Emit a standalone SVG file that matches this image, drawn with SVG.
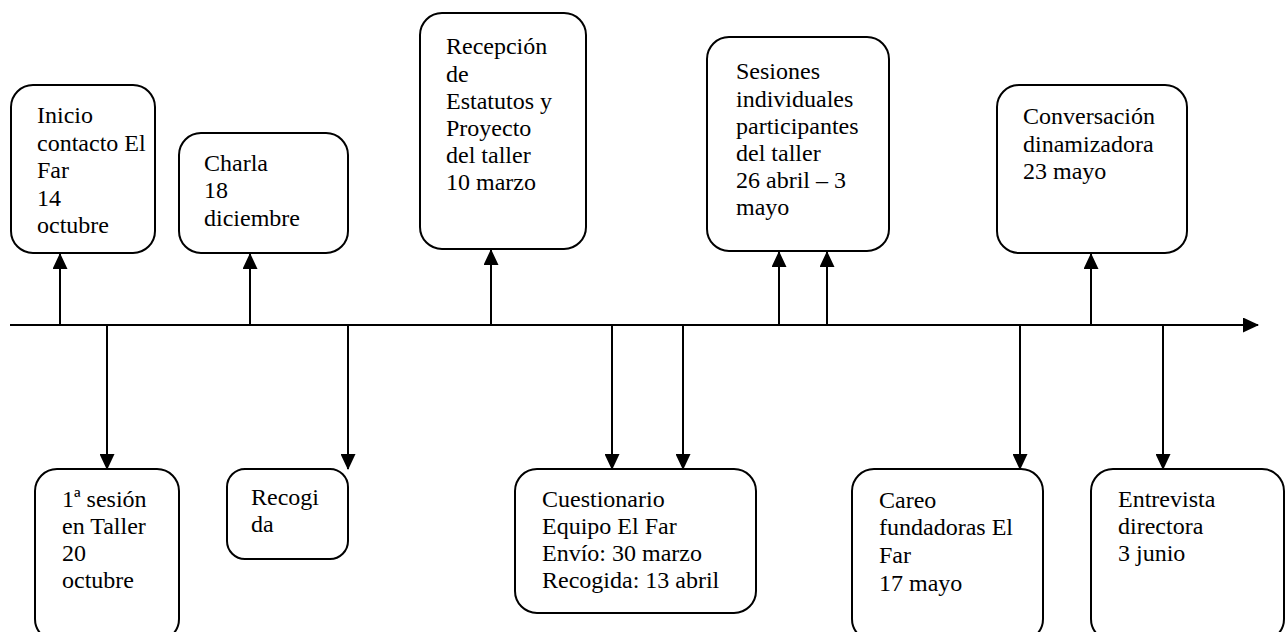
<svg xmlns="http://www.w3.org/2000/svg" width="1288" height="632" viewBox="0 0 1288 632">
<style>
.box{fill:#fff;stroke:#000;stroke-width:2}
.t{font-family:"Liberation Serif","Times New Roman",serif;font-size:24px;fill:#000}
.c{stroke:#000;stroke-width:2;fill:none}
</style>
<defs>
<marker id="ah" viewBox="0 0 16 15" refX="15" refY="7.5" markerWidth="16" markerHeight="15" markerUnits="userSpaceOnUse" orient="auto">
<path d="M0,0 L16,7.5 L0,15 Z" fill="#000"/>
</marker>
</defs>
<rect width="1288" height="632" fill="#fff"/>
<g id="connectors">
<line class="c" x1="10" y1="325" x2="1258" y2="325" marker-end="url(#ah)"/>
<line class="c" x1="60" y1="325" x2="60" y2="254" marker-end="url(#ah)"/>
<line class="c" x1="250" y1="325" x2="250" y2="254" marker-end="url(#ah)"/>
<line class="c" x1="491" y1="325" x2="491" y2="250" marker-end="url(#ah)"/>
<line class="c" x1="779" y1="325" x2="779" y2="252" marker-end="url(#ah)"/>
<line class="c" x1="827" y1="325" x2="827" y2="252" marker-end="url(#ah)"/>
<line class="c" x1="1091" y1="325" x2="1091" y2="254" marker-end="url(#ah)"/>
<line class="c" x1="107" y1="325" x2="107" y2="469" marker-end="url(#ah)"/>
<line class="c" x1="348" y1="325" x2="348" y2="469" marker-end="url(#ah)"/>
<line class="c" x1="612" y1="325" x2="612" y2="469" marker-end="url(#ah)"/>
<line class="c" x1="683" y1="325" x2="683" y2="469" marker-end="url(#ah)"/>
<line class="c" x1="1020" y1="325" x2="1020" y2="469" marker-end="url(#ah)"/>
<line class="c" x1="1163" y1="325" x2="1163" y2="469" marker-end="url(#ah)"/>
</g>
<g id="n1">
<rect class="box" x="11" y="85" width="144" height="168" rx="22"/>
<text class="t" x="37" y="123">Inicio</text>
<text class="t" x="37" y="151">contacto El</text>
<text class="t" x="37" y="178">Far</text>
<text class="t" x="37" y="206">14</text>
<text class="t" x="37" y="233">octubre</text>
</g>
<g id="n2">
<rect class="box" x="179" y="133" width="169" height="120" rx="22"/>
<text class="t" x="204" y="171">Charla</text>
<text class="t" x="204" y="198">18</text>
<text class="t" x="204" y="226">diciembre</text>
</g>
<g id="n3">
<rect class="box" x="420" y="13" width="166" height="236" rx="22"/>
<text class="t" x="446" y="54">Recepción</text>
<text class="t" x="446" y="82">de</text>
<text class="t" x="446" y="109">Estatutos y</text>
<text class="t" x="446" y="136">Proyecto</text>
<text class="t" x="446" y="163">del taller</text>
<text class="t" x="446" y="190">10 marzo</text>
</g>
<g id="n4">
<rect class="box" x="707" y="37" width="182" height="214" rx="22"/>
<text class="t" x="736" y="79">Sesiones</text>
<text class="t" x="736" y="107">individuales</text>
<text class="t" x="736" y="134">participantes</text>
<text class="t" x="736" y="161">del taller</text>
<text class="t" x="736" y="188">26 abril – 3</text>
<text class="t" x="736" y="215">mayo</text>
</g>
<g id="n5">
<rect class="box" x="997" y="85" width="190" height="168" rx="22"/>
<text class="t" x="1023" y="124">Conversación</text>
<text class="t" x="1023" y="152">dinamizadora</text>
<text class="t" x="1023" y="179">23 mayo</text>
</g>
<g id="n6">
<rect class="box" x="35" y="469" width="144" height="172" rx="22"/>
<text class="t" x="62" y="507">1ª sesión</text>
<text class="t" x="62" y="534">en Taller</text>
<text class="t" x="62" y="561">20</text>
<text class="t" x="62" y="588">octubre</text>
</g>
<g id="n7">
<rect class="box" x="227" y="469" width="121" height="90" rx="18"/>
<text class="t" x="251" y="505">Recogi</text>
<text class="t" x="251" y="532">da</text>
</g>
<g id="n8">
<rect class="box" x="515" y="469" width="241" height="144" rx="22"/>
<text class="t" x="542" y="507">Cuestionario</text>
<text class="t" x="542" y="534">Equipo El Far</text>
<text class="t" x="542" y="561">Envío: 30 marzo</text>
<text class="t" x="542" y="588">Recogida: 13 abril</text>
</g>
<g id="n9">
<rect class="box" x="852" y="469" width="191" height="172" rx="22"/>
<text class="t" x="879" y="508">Careo</text>
<text class="t" x="879" y="535">fundadoras El</text>
<text class="t" x="879" y="563">Far</text>
<text class="t" x="879" y="591">17 mayo</text>
</g>
<g id="n10">
<rect class="box" x="1091" y="469" width="193" height="172" rx="22"/>
<text class="t" x="1118" y="507">Entrevista</text>
<text class="t" x="1118" y="534">directora</text>
<text class="t" x="1118" y="561">3 junio</text>
</g>
</svg>
